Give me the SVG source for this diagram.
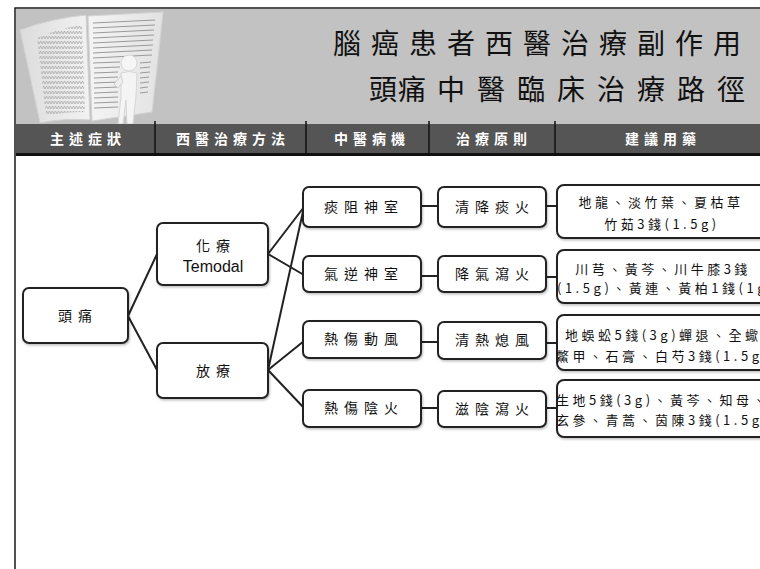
<svg xmlns="http://www.w3.org/2000/svg" width="760" height="569" viewBox="0 0 760 569">
  <defs>
    <style>
      .frame { fill: none; stroke: #1a1a1a; stroke-width: 1.5; }
      .box { fill: #ffffff; stroke: #222222; stroke-width: 2; }
      .wire { fill: none; stroke: #222222; stroke-width: 2; }
      .title { font-family: "Noto Sans CJK TC", "Noto Sans CJK JP", sans-serif; font-size: 28px; fill: #111111; }
      .colhead { font-family: "Noto Sans CJK TC", sans-serif; font-size: 14px; font-weight: 700; fill: #ffffff; letter-spacing: 5px; text-anchor: middle; }
      .lbl { font-family: "Noto Sans CJK TC", sans-serif; font-size: 14px; fill: #111111; letter-spacing: 6px; text-anchor: middle; }
      .latin { font-family: "Liberation Sans", Arial, sans-serif; font-size: 16px; fill: #111111; text-anchor: middle; }
      .med { font-family: "Noto Sans CJK TC", sans-serif; font-size: 13px; fill: #111111; letter-spacing: 3.5px; }
      .mid { text-anchor: middle; }
      .pageline { stroke: #9a9a9a; stroke-width: 1; }
    </style>
    <linearGradient id="pageL" x1="0" y1="0" x2="1" y2="0">
      <stop offset="0" stop-color="#dcdcdc"/>
      <stop offset="1" stop-color="#f2f2f2"/>
    </linearGradient>
    <linearGradient id="pageR" x1="0" y1="0" x2="1" y2="0">
      <stop offset="0" stop-color="#f4f4f4"/>
      <stop offset="1" stop-color="#e2e2e2"/>
    </linearGradient>
    <pattern id="zig" width="6" height="5" patternUnits="userSpaceOnUse">
      <path d="M0,4 L1.5,1 L3,4 L4.5,1 L6,4" fill="none" stroke="#a8a8a8" stroke-width="0.8"/>
    </pattern>
    <filter id="soft" x="-10%" y="-10%" width="130%" height="130%">
      <feDropShadow dx="1" dy="1.5" stdDeviation="1" flood-color="#000000" flood-opacity="0.25"/>
    </filter>
  </defs>

  <!-- page header -->
  <g id="header">
    <rect x="16" y="9" width="744" height="115" fill="#c2c2c2"/>
    <!-- open book with figure -->
    <g id="book-art">
      <path d="M20,30 Q52,18 86,15 L90,120 Q62,118 40,123 Z" fill="url(#pageL)" stroke="#d0d0d0"/>
      <path d="M37,38 Q60,28 82,25 L85,112 Q62,112 46,116 Z" fill="url(#zig)"/>
      <path d="M88,16 L163,12 Q158,60 152,112 L92,121 Z" fill="url(#pageR)" stroke="#d4d4d4"/>
      <g class="pageline">
        <line x1="93" y1="23" x2="155" y2="20"/>
        <line x1="93" y1="28" x2="155" y2="25"/>
        <line x1="93" y1="33" x2="154" y2="30"/>
        <line x1="93" y1="38" x2="154" y2="35"/>
        <line x1="93" y1="43" x2="153" y2="40"/>
        <line x1="93" y1="48" x2="153" y2="45"/>
        <line x1="93" y1="53" x2="152" y2="50"/>
        <line x1="93" y1="58" x2="152" y2="55"/>
        <line x1="93" y1="63" x2="120" y2="62"/>
        <line x1="94" y1="68" x2="120" y2="67"/>
        <line x1="94" y1="73" x2="118" y2="72"/>
        <line x1="94" y1="78" x2="118" y2="77"/>
        <line x1="94" y1="83" x2="118" y2="82"/>
        <line x1="94" y1="88" x2="118" y2="87"/>
        <line x1="94" y1="93" x2="118" y2="92"/>
        <line x1="94" y1="98" x2="118" y2="97"/>
        <line x1="94" y1="103" x2="118" y2="102"/>
        <line x1="94" y1="108" x2="118" y2="107"/>
        <line x1="140" y1="63" x2="151" y2="62"/>
        <line x1="140" y1="68" x2="150" y2="67"/>
        <line x1="140" y1="73" x2="150" y2="72"/>
        <line x1="140" y1="78" x2="149" y2="77"/>
        <line x1="140" y1="83" x2="149" y2="82"/>
        <line x1="140" y1="88" x2="148" y2="87"/>
        <line x1="140" y1="93" x2="148" y2="92"/>
      </g>
      <!-- small figure reading -->
      <circle cx="129" cy="63" r="8" fill="#f6f6f6" stroke="#d8d8d8"/>
      <path d="M121,73 Q129,70 137,73 L136,96 L133,124 L127,124 L126,100 L123,124 L118,124 L121,96 Z" fill="#f4f4f4" stroke="#d6d6d6"/>
      <path d="M121,76 L114,84 L118,88 L123,82 Z" fill="#eeeeee" stroke="#d0d0d0"/>
    </g>
    <text class="title" x="333" y="54" letter-spacing="10">腦癌患者西醫治療副作用</text>
    <text class="title" x="369" y="100" letter-spacing="1">頭痛</text>
    <text class="title" x="437" y="100" letter-spacing="12">中醫臨床治療路徑</text>

    <!-- column heading band -->
    <rect x="16" y="124" width="744" height="30" fill="#555555"/>
    <line x1="16" y1="154.5" x2="760" y2="154.5" stroke="#111111" stroke-width="3"/>
    <g stroke="#111111" stroke-width="1.5">
      <line x1="155" y1="121" x2="155" y2="153"/>
      <line x1="306" y1="121" x2="306" y2="153"/>
      <line x1="429" y1="121" x2="429" y2="153"/>
      <line x1="555" y1="121" x2="555" y2="153"/>
    </g>
    <text class="colhead" x="88" y="144">主述症狀</text>
    <text class="colhead" x="233" y="144">西醫治療方法</text>
    <text class="colhead" x="372" y="144">中醫病機</text>
    <text class="colhead" x="494" y="144">治療原則</text>
    <text class="colhead" x="663" y="144">建議用藥</text>
  </g>

  <!-- outer frame -->
  <path class="frame" d="M15,569 L15,8 L760,8"/>

  <!-- connectors -->
  <g id="connectors" class="wire">
    <path d="M128,316 L157,254"/>
    <path d="M128,316 L157,370"/>
    <path d="M268,254 L304,207"/>
    <path d="M268,254 L304,275"/>
    <path d="M268,370 L304,207"/>
    <path d="M268,370 L304,341"/>
    <path d="M268,370 L304,408"/>
    <path d="M421,206 L438,206"/>
    <path d="M421,276 L438,276"/>
    <path d="M421,342 L438,342"/>
    <path d="M421,408 L438,408"/>
    <path d="M546,206 L569,206"/>
    <path d="M546,277 L569,277"/>
    <path d="M546,343 L569,343"/>
    <path d="M546,408 L569,408"/>
  </g>

  <!-- symptom -->
  <g id="n-headache">
    <rect class="box" x="23" y="288" width="105" height="55" rx="6" filter="url(#soft)"/>
    <text class="lbl" x="78" y="321">頭痛</text>
  </g>

  <!-- western treatments -->
  <g id="n-chemo">
    <rect class="box" x="157" y="223" width="111" height="62" rx="6" filter="url(#soft)"/>
    <text class="lbl" x="216" y="251">化療</text>
    <text class="latin" x="213" y="272">Temodal</text>
  </g>
  <g id="n-radio">
    <rect class="box" x="157" y="343" width="111" height="55" rx="6" filter="url(#soft)"/>
    <text class="lbl" x="216" y="376">放療</text>
  </g>

  <!-- TCM pathogenesis -->
  <g id="n-tanzu">
    <rect class="box" x="303" y="187" width="118" height="40" rx="6" filter="url(#soft)"/>
    <text class="lbl" x="364" y="212">痰阻神室</text>
  </g>
  <g id="n-qini">
    <rect class="box" x="303" y="256" width="118" height="36" rx="6" filter="url(#soft)"/>
    <text class="lbl" x="364" y="279">氣逆神室</text>
  </g>
  <g id="n-dongfeng">
    <rect class="box" x="303" y="321" width="118" height="37" rx="6" filter="url(#soft)"/>
    <text class="lbl" x="364" y="344">熱傷動風</text>
  </g>
  <g id="n-yinhuo">
    <rect class="box" x="303" y="390" width="118" height="37" rx="6" filter="url(#soft)"/>
    <text class="lbl" x="364" y="413">熱傷陰火</text>
  </g>

  <!-- treatment principles -->
  <g id="p-qingjiang">
    <rect class="box" x="438" y="187" width="108" height="40" rx="6" filter="url(#soft)"/>
    <text class="lbl" x="495" y="212">清降痰火</text>
  </g>
  <g id="p-jiangqi">
    <rect class="box" x="438" y="256" width="108" height="36" rx="6" filter="url(#soft)"/>
    <text class="lbl" x="495" y="279">降氣瀉火</text>
  </g>
  <g id="p-qingre">
    <rect class="box" x="438" y="322" width="108" height="37" rx="6" filter="url(#soft)"/>
    <text class="lbl" x="495" y="345">清熱熄風</text>
  </g>
  <g id="p-ziyin">
    <rect class="box" x="438" y="391" width="108" height="36" rx="6" filter="url(#soft)"/>
    <text class="lbl" x="495" y="414">滋陰瀉火</text>
  </g>

  <!-- suggested herbs -->
  <g id="m-1">
    <rect class="box" x="557" y="185" width="215" height="53" rx="7" filter="url(#soft)"/>
    <text class="med mid" x="661" y="207">地龍、淡竹葉、夏枯草</text>
    <text class="med mid" x="662" y="229">竹茹3錢(1.5g)</text>
  </g>
  <g id="m-2">
    <rect class="box" x="557" y="250" width="215" height="53" rx="7" filter="url(#soft)"/>
    <text class="med mid" x="663" y="274">川芎、黃芩、川牛膝3錢</text>
    <text class="med" x="557" y="293">(1.5g)、黃連、黃柏1錢(1g)</text>
  </g>
  <g id="m-3">
    <rect class="box" x="557" y="315" width="215" height="55" rx="7" filter="url(#soft)"/>
    <text class="med" x="565" y="340">地蜈蚣5錢(3g)蟬退、全蠍</text>
    <text class="med" x="556" y="361">鱉甲、石膏、白芍3錢(1.5g)</text>
  </g>
  <g id="m-4">
    <rect class="box" x="557" y="380" width="215" height="57" rx="7" filter="url(#soft)"/>
    <text class="med" x="556" y="405">生地5錢(3g)、黃芩、知母、</text>
    <text class="med" x="556" y="425">玄參、青蒿、茵陳3錢(1.5g)</text>
  </g>
</svg>
